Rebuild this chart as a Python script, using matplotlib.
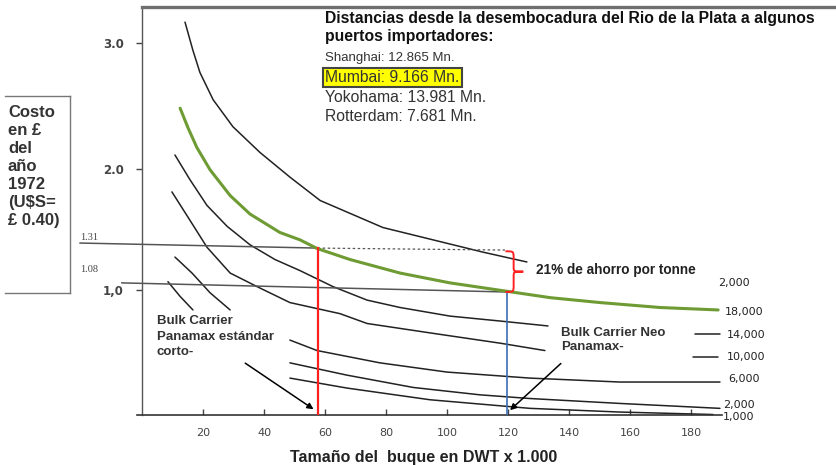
import matplotlib
matplotlib.use("Agg")
import matplotlib.pyplot as plt
from matplotlib.path import Path
from matplotlib.patches import PathPatch

plt.rcParams['font.family'] = ['Liberation Sans', 'DejaVu Sans']

# curves (x = DWT x 1000, y = cost)
c22000_x = [14.1, 16.7, 19.0, 23.3, 29.8, 38.7, 48.5, 58.4, 79.0, 95.4, 111.8, 126.2]
c22000_y = [3.17, 2.94, 2.76, 2.54, 2.32, 2.11, 1.91, 1.72, 1.50, 1.40, 1.30, 1.22]

c18000_x = [12.5, 15.1, 18.0, 22.3, 28.9, 35.4, 45.2, 51.8, 57.4, 68.2, 84.6, 101.0, 117.4, 133.8, 150.2, 169.8, 188.9]
c18000_y = [2.47, 2.31, 2.15, 1.97, 1.76, 1.61, 1.46, 1.40, 1.33, 1.24, 1.13, 1.05, 0.99, 0.93, 0.89, 0.85, 0.83]

c14000_x = [10.8, 15.7, 21.3, 27.9, 35.4, 43.6, 51.8, 62.6, 73.8, 84.6, 101.0, 117.4, 133.1]
c14000_y = [2.09, 1.89, 1.68, 1.51, 1.36, 1.24, 1.15, 1.02, 0.91, 0.85, 0.78, 0.74, 0.70]
c14000_end_x = [181.3, 189.5]
c14000_end_y = [0.634, 0.634]

c10000_x = [9.8, 15.7, 21.3, 28.9, 37.7, 48.5, 64.9, 73.8, 95.4, 117.4, 132.1]
c10000_y = [1.79, 1.56, 1.34, 1.13, 1.02, 0.89, 0.80, 0.72, 0.64, 0.56, 0.50]
c10000_end_x = [180.7, 188.9]
c10000_end_y = [0.447, 0.447]

short1_x = [10.8, 16.4, 22.3, 28.9]
short1_y = [1.26, 1.13, 0.97, 0.83]
short2_x = [8.5, 12.5, 16.7]
short2_y = [1.06, 0.94, 0.83]

c6000_x = [48.5, 57.4, 78.0, 100.0, 127.2, 156.7, 189.5]
c6000_y = [0.585, 0.50, 0.40, 0.325, 0.276, 0.244, 0.244]

c2000_x = [48.5, 67.2, 88.9, 110.8, 127.2, 156.7, 189.5]
c2000_y = [0.40, 0.30, 0.20, 0.14, 0.11, 0.07, 0.03]

c1000_x = [48.5, 67.2, 94.4, 127.2, 156.7, 187.2]
c1000_y = [0.276, 0.195, 0.10, 0.03, 0.0, -0.02]

# reference lines
high_x = [-20.3, 57.6]
high_y = [1.374, 1.333]
high_dash_x = [57.6, 119.0]
high_dash_y = [1.333, 1.317]
low_x = [-6.6, 119.7]
low_y = [1.05, 0.976]
panamax_x = 57.6
neo_x = 119.7

xticks = [20, 40, 60, 80, 100, 120, 140, 160, 180]
yticks = [0.99, 1.98, 3.0]
ytick_labels = ['1,0', '2.0', '3.0']
right_labels = ['2,000', '18,000', '14,000', '10,000', '6,000', '2,000', '1,000']
right_label_y = [1.05, 0.81, 0.63, 0.45, 0.27, 0.057, -0.04]
right_label_dx = [-0.7, 1.6, 2.3, 2.3, 2.6, 1.0, 1.0]

distancias = ['Shanghai: 12.865 Mn.', 'Mumbai: 9.166 Mn.', 'Yokohama: 13.981 Mn.', 'Rotterdam: 7.681 Mn.']
distancias_size = [9.5, 11.3, 11.3, 11.3]

W, H = 836, 465
fig = plt.figure(figsize=(8.36, 4.65), dpi=100)
ax = fig.add_axes([142 / W, 50 / H, (W - 142) / W, 408 / H])
ax.set_xlim(0, (W - 142) / 3.05)
ax.set_ylim(-0.024, 3.293)

ink = '#222222'
green = '#6E9B33'
for xs, ys in [(c22000_x, c22000_y), (c14000_x, c14000_y), (c14000_end_x, c14000_end_y),
               (c10000_x, c10000_y), (c10000_end_x, c10000_end_y), (short1_x, short1_y),
               (short2_x, short2_y), (c6000_x, c6000_y), (c2000_x, c2000_y), (c1000_x, c1000_y)]:
    ax.plot(xs, ys, color=ink, lw=1.1, solid_capstyle='round', clip_on=False)
ax.plot(c18000_x, c18000_y, color=green, lw=2.2, solid_capstyle='round', zorder=4)

ax.plot(high_x, high_y, color='#555555', lw=1.1, clip_on=False)
ax.plot(high_dash_x, high_dash_y, color='#555555', lw=0.9, ls=(0, (2, 2)))
ax.plot(low_x, low_y, color='#555555', lw=1.1, clip_on=False)
ax.plot([panamax_x, panamax_x], [high_y[1], -0.024], color='#FF2020', lw=1.6, zorder=5)
ax.plot([neo_x, neo_x], [low_y[1], -0.024], color='#3A6DB5', lw=1.2, zorder=5)

# red brace between the two cost levels
bx, bw = 120.5, 4.5
y0, y1 = high_dash_y[1] - 0.01, low_y[1]
ym = (y0 + y1) / 2
verts = [(bx - bw * 0.3, y0), (bx + bw * 0.3, y0), (bx + bw * 0.3, y0), (bx + bw * 0.3, y0 - 0.06),
         (bx + bw * 0.3, ym + 0.04),
         (bx + bw * 0.3, ym), (bx + bw * 0.3, ym), (bx + bw, ym),
         (bx + bw * 0.3, ym), (bx + bw * 0.3, ym), (bx + bw * 0.3, ym - 0.04),
         (bx + bw * 0.3, y1 + 0.06),
         (bx + bw * 0.3, y1), (bx + bw * 0.3, y1), (bx - bw * 0.3, y1)]
codes = [Path.MOVETO, Path.CURVE4, Path.CURVE4, Path.CURVE4, Path.LINETO,
         Path.CURVE4, Path.CURVE4, Path.CURVE4, Path.CURVE4, Path.CURVE4, Path.CURVE4,
         Path.LINETO, Path.CURVE4, Path.CURVE4, Path.CURVE4]
ax.add_patch(PathPatch(Path(verts, codes), fill=False, edgecolor='#FF2020', lw=1.4, zorder=6))
ax.text(129.2, 1.155, '21% de ahorro por tonne', fontsize=9.8, fontweight='bold',
        color=ink, va='center')

# arrows to the two ship sizes
ax.annotate('', xy=(panamax_x - 0.6, 0.01), xytext=(33.1, 0.41),
            arrowprops=dict(arrowstyle='-|>', color='black', lw=1.1, mutation_scale=9))
ax.annotate('', xy=(neo_x + 0.3, 0.0), xytext=(138.0, 0.41),
            arrowprops=dict(arrowstyle='-|>', color='black', lw=1.1, mutation_scale=9))
ax.text(4.9, 0.79, 'Bulk Carrier\nPanamax estándar\ncorto-', fontsize=9.5, fontweight='bold',
        color='#333333', va='top', linespacing=1.42)
ax.text(137.4, 0.69, 'Bulk Carrier Neo\nPanamax-', fontsize=9.5, fontweight='bold',
        color='#333333', va='top', linespacing=1.2)

for lab, ly, dx in zip(right_labels, right_label_y, right_label_dx):
    ax.text(189.5 + dx, ly, lab, fontsize=8, family='DejaVu Sans', color=ink,
            va='center', clip_on=False)

ax.text(-20.3, 1.415, '1.31', fontsize=7.5, family='Liberation Serif', color='#444444', va='center')
ax.text(-20.3, 1.155, '1.08', fontsize=7.5, family='Liberation Serif', color='#444444', va='center')

# spines and ticks
ax.spines['right'].set_visible(False)
ax.spines['top'].set_color('#6f6f6f')
ax.spines['top'].set_linewidth(2.4)
ax.spines['left'].set_color('#555555')
ax.spines['left'].set_linewidth(1.0)
ax.spines['bottom'].set_color('#333333')
ax.spines['bottom'].set_linewidth(1.2)
ax.spines['bottom'].set_bounds(-1.5, 190)

ax.set_xticks(xticks)
ax.set_xticklabels([str(t) for t in xticks], family='DejaVu Sans', fontsize=8, color='#444444')
ax.tick_params(axis='x', direction='in', length=4, width=1, color='#444444', pad=9)
ax.set_yticks(yticks)
ax.set_yticklabels(ytick_labels, family='DejaVu Sans', fontsize=8.5, fontweight='bold', color='#444444')
ax.tick_params(axis='y', direction='out', length=4, width=1, color='#444444', pad=9)

fig.text(424 / W, 1 - 457 / H, 'Tamaño del  buque en DWT x 1.000', fontsize=11.5, fontweight='bold',
         color=ink, ha='center', va='center')

# title block with distances
fig.text(325 / W, 1 - 11 / H, 'Distancias desde la desembocadura del Rio de la Plata a algunos\npuertos importadores:',
         fontsize=11.3, fontweight='bold', color='#111111', va='top', linespacing=1.22)
for i, d in enumerate(distancias):
    kw = {}
    if i == 1:
        kw['bbox'] = dict(boxstyle='square,pad=0.15', facecolor='#FFFF00', edgecolor='#444444', lw=1.5)
    fig.text(325 / W, 1 - (58 + 19.5 * i) / H, d, fontsize=distancias_size[i], color='#333333',
             va='center', **kw)

# y label box on the left
box = dict(color='#777777', lw=1.0)
fig.add_artist(plt.Line2D([5 / W, 70 / W], [1 - 96 / H, 1 - 96 / H], **box))
fig.add_artist(plt.Line2D([70 / W, 70 / W], [1 - 96 / H, 1 - 293 / H], **box))
fig.add_artist(plt.Line2D([5 / W, 70 / W], [1 - 293 / H, 1 - 293 / H], **box))
fig.text(8 / W, 1 - 105 / H, 'Costo\nen £\ndel\naño\n1972\n(U$S=\n£ 0.40)', fontsize=12,
         fontweight='bold', color='#333333', va='top', linespacing=1.25)

fig.savefig('out.png', dpi=100, facecolor='white')
